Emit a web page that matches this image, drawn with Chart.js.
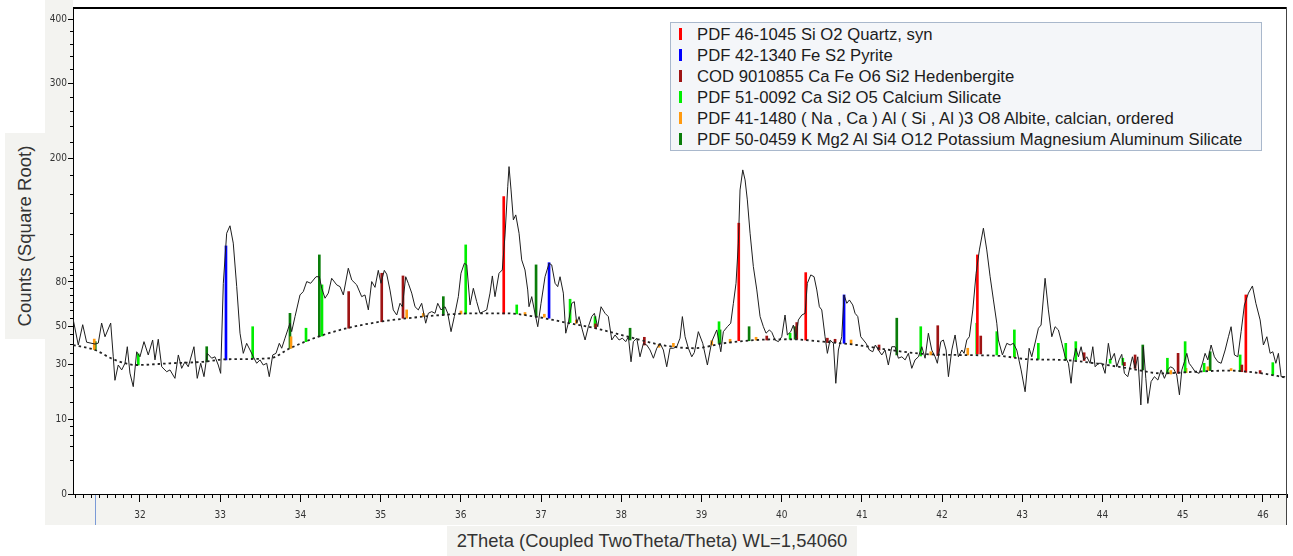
<!DOCTYPE html>
<html>
<head>
<meta charset="utf-8">
<script src="https://cdn.jsdelivr.net/npm/chart.js@4.4.1/dist/chart.umd.min.js"></script>
<style>
  body { margin: 0; background: #fff; }
  #wrap { position: relative; width: 1293px; height: 556px; overflow: hidden; font-family: 'Liberation Sans', Arial, sans-serif; }
  .panel { position: absolute; background: #f3f3f0; }
  #chart { position: absolute; left: 0; top: 0; z-index: 1; }
  #ytitle { left: 5px; top: 133px; width: 40px; height: 206px; display: flex; align-items: center; justify-content: center; }
  #ytitle span { transform: rotate(-90deg); white-space: nowrap; font-size: 18.6px; color: #333; }
  #xtitle { left: 447px; top: 526px; width: 410px; height: 30px; text-align: center; font-size: 18.4px; line-height: 30px; color: #333; white-space: nowrap; }
  #cursor { position: absolute; left: 95px; top: 495px; width: 1px; height: 30px; background: #7a9ad6; z-index: 2; }
  #legend { position: absolute; left: 670px; top: 22px; width: 590px; height: 126px; background: #f4f6f9; border: 1px solid #a9b8cc; z-index: 2; padding-top: 1px; }
  #legend .row { height: 21px; line-height: 21px; font-size: 16.7px; color: #1c1c1c; white-space: nowrap; position: relative; padding-left: 26px; }
  #legend .mk { position: absolute; left: 8px; top: 4px; width: 3px; height: 12px; }
</style>
</head>
<body>
<div id="wrap">
  <div class="panel" style="left:45px;top:0;width:28px;height:525px"></div>
  <div class="panel" style="left:45px;top:494px;width:1242px;height:31px"></div>
  <div class="panel" id="ytitle"><span>Counts (Square Root)</span></div>
  <div class="panel" id="xtitle">2Theta (Coupled TwoTheta/Theta) WL=1,54060</div>
  <canvas id="chart" width="1293" height="556"></canvas>
  <div id="cursor"></div>
  <div id="legend"></div>
</div>
<script>
// measured pattern (2theta, counts)
const twoTheta = [31.168,31.231,31.286,31.335,31.439,31.48,31.522,31.564,31.635,31.667,31.688,31.729,31.772,31.813,31.842,31.875,31.916,31.959,
  32.0,32.05,32.103,32.158,32.187,32.228,32.271,32.333,32.374,32.436,32.478,32.52,32.561,32.602,32.673,32.714,32.757,32.798,32.839,32.894,32.935,32.976,
  33.006,33.039,33.081,33.122,33.163,33.206,33.247,33.288,33.33,33.372,33.413,33.455,33.496,33.537,33.58,33.612,33.655,33.696,33.737,33.767,33.808,33.87,33.891,33.933,33.995,
  34.036,34.079,34.128,34.195,34.236,34.266,34.307,34.348,34.39,34.453,34.494,34.535,34.597,34.64,34.702,34.764,34.805,34.847,34.889,34.93,34.971,
  35.005,35.046,35.076,35.117,35.158,35.201,35.242,35.271,35.313,35.345,35.388,35.429,35.47,35.512,35.562,35.595,35.637,35.678,35.712,35.753,35.803,35.837,35.878,35.919,35.969,
  36.002,36.044,36.074,36.115,36.156,36.198,36.239,36.281,36.323,36.364,36.393,36.426,36.476,36.517,36.551,36.585,36.601,36.626,36.655,36.685,36.726,36.759,36.8,36.834,36.85,36.884,36.916,36.959,
  37.0,37.05,37.1,37.133,37.175,37.208,37.237,37.278,37.308,37.34,37.383,37.415,37.445,37.474,37.515,37.549,37.59,37.632,37.665,37.707,37.748,37.798,37.839,37.882,37.923,37.973,
  38.014,38.056,38.089,38.122,38.151,38.193,38.234,38.276,38.318,38.359,38.401,38.443,38.484,38.525,38.567,38.608,38.65,38.692,38.733,38.762,38.796,38.837,38.879,38.911,38.961,
  39.016,39.074,39.128,39.191,39.241,39.273,39.323,39.365,39.398,39.431,39.46,39.481,39.515,39.544,39.572,39.606,39.647,39.69,39.731,39.772,39.805,39.847,39.877,39.918,39.959,
  40.001,40.042,40.071,40.113,40.146,40.18,40.208,40.251,40.292,40.32,40.363,40.404,40.438,40.47,40.5,40.541,40.57,40.603,40.645,40.675,40.707,40.749,40.778,40.812,40.844,40.886,40.915,40.949,40.986,
  41.019,41.052,41.094,41.136,41.168,41.206,41.248,41.289,41.33,41.373,41.414,41.455,41.498,41.539,41.58,41.622,41.663,41.705,41.747,41.788,41.829,41.871,41.913,41.941,41.984,
  42.016,42.05,42.079,42.121,42.162,42.203,42.246,42.274,42.308,42.34,42.383,42.424,42.465,42.515,42.557,42.599,42.64,42.682,42.702,42.752,42.807,42.848,42.889,42.931,42.985,
  43.035,43.085,43.118,43.168,43.201,43.234,43.284,43.325,43.368,43.409,43.45,43.493,43.534,43.575,43.608,43.637,43.667,43.7,43.733,43.767,43.804,43.845,43.879,43.908,43.949,43.991,
  44.032,44.073,44.107,44.148,44.178,44.207,44.24,44.273,44.315,44.344,44.373,44.406,44.44,44.478,44.51,44.54,44.565,44.606,44.647,44.69,44.731,44.772,44.814,44.847,44.884,44.926,44.959,44.989,
  45.021,45.051,45.08,45.113,45.155,45.204,45.246,45.279,45.313,45.354,45.395,45.438,45.479,45.529,45.57,45.603,45.645,45.687,45.728,45.769,45.819,45.869,45.912,45.965,
  46.006,46.049,46.09,46.123,46.161,46.193,46.227,46.277];
const counts = [54,39.5,51,41,40,40.5,52,44,52,33.5,23,29.6,27.4,30.4,38.6,26,20.5,36,
  33.5,41.3,34.4,42.2,32,42.6,28.8,26.6,27.4,23.8,34.4,28.1,31.1,28.8,38.6,23.8,30.4,24.5,35.2,32.8,33.5,29.6,
  25.9,79,121,128,112,76.5,46,35.2,40.4,36.9,33.5,30.4,32,29.6,30.4,24.5,34.4,35.2,40.4,37.8,43.2,51.9,46.9,56,70.5,
  72.9,80.3,79,84,84,75.3,68.2,71.8,82.8,77.8,76.5,70.5,90.7,81.5,77.8,69.3,70.5,60.3,80.3,76,89,
  79,89,86,74,60.3,57,64.7,62.4,84,79,71.8,62.4,60.3,64.7,51.9,58.1,59.2,58.1,64.7,60.3,62.4,58.1,46.9,56,69.3,
  86.7,94.7,93.4,63.6,75.3,65.8,58.1,59.2,60.3,71.8,84.6,69.3,86.7,89.3,119.4,168,190.7,164.5,133.7,138.6,121,97.5,89.3,74.1,62.4,69.3,60.3,49.8,
  64.7,84,94.7,93.4,79,76.5,84,71.8,46,51.9,64.7,65.8,51.9,56,47.9,42.2,49.8,56,58.1,49.8,62.4,58.1,56,42.2,45,42.2,
  43.2,41.3,44,31.1,41.3,43.2,33.5,40.4,39.5,36.9,32.8,37.8,40.4,36.9,28.8,37.8,37.8,38.6,43.2,56,44,37.8,33.5,35.6,46.9,
  40.4,29.6,41.3,47.9,36,46.9,49.8,51.9,64.7,79,112,164.5,186.9,175.5,153.9,121,92,74.1,56,49.8,46,47.9,46.5,42.2,41.3,
  44,57,45,46.9,50.8,43.2,53.9,57,58.1,79,85.4,84,74.1,62.4,60.3,44,35.2,42.2,40.4,21.8,36.9,44,70.5,64.7,67,63.6,58.1,56,44,
  42.2,40.4,36.9,36,39.5,36.9,34.4,36.9,29.6,38.6,38.6,32.8,33.5,32,35.2,28.1,32,33.5,38.6,32.8,46,36.9,33.5,30.4,41.3,
  42.2,36.9,24.5,36.9,45,33.5,36.9,35.2,42.2,44,60.3,86.7,106,125.7,106,84,67,51.9,42.2,34.4,40.4,39.5,40.4,36.9,27.4,
  18.6,37.8,33.5,42.2,48.9,50.8,82.8,60.3,44,49.8,47.9,40.4,33.5,30.4,21.8,32,37.8,33.5,38.6,32,33.5,30.4,38.6,28.8,30.4,30.4,
  25.9,40.4,32,35.2,28.8,32,34.7,25.9,24.5,28.8,33.5,28.1,33.5,14.1,38.6,23.8,14.6,22.5,24.5,23.1,27.4,23.8,27.4,28.8,28.1,25.2,17.5,27.4,
  31.1,35.2,30.4,28.8,26.6,25.9,30.4,35.2,32,39.5,33.5,31.1,30.4,36.9,44,49.8,34.4,33.5,46.9,63.6,71.8,77,64.7,53.9,
  39.5,44,35.2,36,30.4,35.2,24.5,24.5];

// fitted background (dotted)
const bgTheta = [31.168,31.439,31.667,31.959,32.374,32.789,33.081,33.621,33.87,34.244,34.577,34.993,35.345,35.762,36.177,36.551,36.925,37.258,37.673,38.089,
  38.505,38.911,39.273,39.69,40.105,40.52,40.936,41.352,41.767,42.183,42.723,43.076,43.493,43.908,44.323,44.739,45.155,45.57,45.986,46.277];
const bgCounts = [39.5,36.9,32.3,29.6,30.4,31.1,32.3,32.8,37.8,44.4,48.9,52.8,55,57,58.1,58.1,56,52.8,48.9,44,
  39.5,37.8,40.4,42.2,42.6,41.3,39.5,36.9,34.9,34.4,33.9,32.3,32,30.4,28.1,25.9,26.6,27.1,25.9,24.2];

// reference phases
const phaseNames = [
  "PDF 46-1045 Si O2 Quartz, syn",
  "PDF 42-1340 Fe S2 Pyrite",
  "COD 9010855 Ca Fe O6 Si2 Hedenbergite",
  "PDF 51-0092 Ca Si2 O5 Calcium Silicate",
  "PDF 41-1480 ( Na , Ca ) Al ( Si , Al )3 O8 Albite, calcian, ordered",
  "PDF 50-0459 K Mg2 Al Si4 O12 Potassium Magnesium Aluminum Silicate"
];
const phaseColors = ["#ff0000", "#0000ff", "#9e1414", "#00ee00", "#ff9a10", "#0a7d0a"];

// stick positions, stick bottom and top (counts)
const quartzPos = [36.535,39.465,40.3,42.44,45.787];
const quartzLo = [57.7,41.8,42.2,34.9,26.4];
const quartzHi = [157.4,130.5,87.2,101.7,70.5];

const pyritePos = [33.072,37.1,40.778];
const pyriteLo = [32,55,40.4];
const pyriteHi = [109.5,95.2,70.5];

const hedenPos = [34.602,35.014,35.279,37.68,38.288,39.814,40.188,40.57,40.666,41.214,41.946,42.482,43.771,44.273,44.406,44.942,45.737,45.965];
const hedenLo = [48.9,52.8,55,48.9,39.5,42.2,42.6,40.8,40.8,36.9,34.1,34.9,31.7,29.3,28.1,25.9,26.6,25.9];
const hedenHi = [72.9,86.7,84.6,51.5,43.7,44.4,52.3,43.2,42.6,39.5,50.4,44.4,35.5,30.8,34.4,35.2,29.6,27.1];

const casiPos = [31.979,33.405,34.07,34.269,36.061,36.697,37.362,37.673,39.219,40.105,41.734,42.432,42.682,42.901,43.2,43.542,43.667,44.095,44.253,44.809,45.03,45.267,45.716,46.123];
const casiLo = [29.6,32.8,41.3,44.4,57.7,57.7,52.3,49.8,40.4,42.6,33.9,34.9,34.4,33.5,32.3,32,32,30.4,29.6,25.9,26.2,26.6,26.6,25.2];
const casiHi = [34.9,49.8,48.9,77.8,110.4,63.6,67.5,56,52.8,46,49.8,51.9,46.9,47.9,40.4,40.4,41.3,32.3,32.8,32.8,41.3,30.4,34.4,30.7];

const albitePos = [31.43,33.883,35.325,35.532,36.002,36.8,37.041,37.44,38.471,38.65,39.128,39.357,39.681,40.865,41.859,42.32,42.901,44.851,45.042,45.313,45.603];
const albiteLo = [37.1,37.8,55,56,57.7,57,55.6,51.9,38.3,38.6,39.5,40.8,42.2,40,34.4,34.4,33.3,25.6,26.2,27.1,27.1];
const albiteHi = [42.7,44,60.3,58,59.6,58.6,57.5,53.9,39.8,40.4,41.8,42.6,43.7,42.2,36,37.8,36,27.1,28.1,28.8,28];

const kmgPos = [31.443,32.832,33.87,34.236,35.782,36.938,38.11,39.232,39.594,40.167,41.435,44.502,45.342];
const kmgLo = [36.9,31.1,37.8,44,57,56,42.2,40.4,41.8,42.6,34.4,27.4,27.1];
const kmgHi = [41.3,38.6,58.1,101.7,69.3,93.4,48.9,47.9,49.8,49.8,55,39.5,36];

// axis ticks
const yLabelTicks = [0, 10, 30, 50, 80, 200, 300, 400];
const yMinorTicks = [2,4,6,8,15,20,25,35,40,45,55,60,65,70,75,85,90,95,100,120,140,160,180,220,240,260,280,320,340,360,380];
const xLabelTicks = [32,33,34,35,36,37,38,39,40,41,42,43,44,45,46];
const xMin = 31.165, xMax = 46.3, yMax = 422;

// square-root intensity axis
class SqrtScale extends Chart.LinearScale {
  static id = 'sqrt';
  static defaults = Chart.LinearScale.defaults;
  getPixelForValue(v) {
    if (v === null || isNaN(v)) return NaN;
    const a = Math.sqrt(this.min), b = Math.sqrt(this.max);
    return this.getPixelForDecimal((Math.sqrt(Math.max(v, 0)) - a) / (b - a));
  }
  getValueForPixel(p) {
    const a = Math.sqrt(this.min), b = Math.sqrt(this.max);
    const s = a + this.getDecimalForPixel(p) * (b - a);
    return s * s;
  }
}
Chart.register(SqrtScale);

const frame = {
  id: 'frame',
  afterDraw(chart) {
    const { ctx, chartArea: a } = chart;
    ctx.save();
    ctx.strokeStyle = '#000';
    ctx.lineWidth = 2;
    ctx.beginPath();
    ctx.moveTo(a.left, a.top + 1);
    ctx.lineTo(a.right, a.top + 1);
    ctx.stroke();
    ctx.strokeStyle = '#444';
    ctx.lineWidth = 1;
    ctx.beginPath();
    ctx.moveTo(a.right - 0.5, a.top);
    ctx.lineTo(a.right - 0.5, a.bottom + 31);
    ctx.stroke();
    ctx.restore();
  }
};

const sticks = (pos, lo, hi) => pos.map((p, i) => ({ x: p, y: [lo[i], hi[i]] }));
const phaseData = [
  sticks(quartzPos, quartzLo, quartzHi),
  sticks(pyritePos, pyriteLo, pyriteHi),
  sticks(hedenPos, hedenLo, hedenHi),
  sticks(casiPos, casiLo, casiHi),
  sticks(albitePos, albiteLo, albiteHi),
  sticks(kmgPos, kmgLo, kmgHi)
];

const tickFont = { family: "'Liberation Sans Narrow', 'DejaVu Sans Condensed', sans-serif", size: 10 };
const minorX = [];
for (let k = 312; k <= 463; k++) if (k % 10 !== 0) minorX.push(k / 10);

const datasets = [
  {
    type: 'line',
    label: 'pattern',
    data: twoTheta.map((t, i) => ({ x: t, y: counts[i] })),
    borderColor: '#1e1e1e',
    borderWidth: 1,
    pointRadius: 0,
    tension: 0,
    order: 0
  },
  {
    type: 'line',
    label: 'background',
    data: bgTheta.map((t, i) => ({ x: t, y: bgCounts[i] })),
    borderColor: '#222',
    borderWidth: 1.8,
    borderDash: [2.5, 3],
    pointRadius: 0,
    cubicInterpolationMode: 'monotone',
    order: 1
  }
];
phaseNames.forEach((name, i) => {
  datasets.push({
    type: 'bar',
    label: name,
    data: phaseData[i],
    backgroundColor: phaseColors[i],
    borderWidth: 0,
    barThickness: 2,
    grouped: false,
    order: 2
  });
});

new Chart(document.getElementById('chart'), {
  type: 'line',
  data: { datasets: datasets },
  options: {
    responsive: false,
    animation: false,
    events: [],
    layout: { padding: { top: 7, right: 6, left: 0, bottom: 0 } },
    plugins: { legend: { display: false }, tooltip: { enabled: false } },
    scales: {
      x: {
        type: 'linear', position: 'bottom', weight: 1,
        min: xMin, max: xMax, offset: false,
        afterBuildTicks: s => { s.ticks = xLabelTicks.map(v => ({ value: v })); },
        afterFit: s => { s.height = 62; },
        ticks: { autoSkip: false, maxRotation: 0, padding: 7, color: '#333', font: tickFont, callback: v => String(v) },
        grid: { drawOnChartArea: false, offset: false, tickLength: 8, tickColor: '#000' },
        border: { color: '#000', width: 1 }
      },
      xm: {
        type: 'linear', position: 'bottom', weight: 0,
        min: xMin, max: xMax, offset: false,
        afterBuildTicks: s => { s.ticks = minorX.map(v => ({ value: v })); },
        afterFit: s => { s.height = 0; },
        ticks: { display: false, autoSkip: false },
        grid: { drawOnChartArea: false, offset: false, tickLength: 4, tickColor: '#000' },
        border: { display: false }
      },
      y: {
        type: 'sqrt', position: 'left', weight: 1,
        min: 0, max: yMax,
        afterBuildTicks: s => { s.ticks = yLabelTicks.map(v => ({ value: v })); },
        afterFit: s => { s.width = 73; },
        ticks: { autoSkip: false, padding: 1, color: '#333', font: tickFont, callback: v => String(v) },
        grid: { drawOnChartArea: false, tickLength: 5, tickColor: '#000' },
        border: { color: '#000', width: 1 }
      },
      ym: {
        type: 'sqrt', position: 'left', weight: 0,
        min: 0, max: yMax,
        afterBuildTicks: s => { s.ticks = yMinorTicks.map(v => ({ value: v })); },
        afterFit: s => { s.width = 0; },
        ticks: { display: false, autoSkip: false },
        grid: { drawOnChartArea: false, tickLength: 3, tickColor: '#000' },
        border: { display: false }
      }
    }
  },
  plugins: [frame]
});

// legend box
const legend = document.getElementById('legend');
phaseNames.forEach((name, i) => {
  const row = document.createElement('div');
  row.className = 'row';
  const mk = document.createElement('span');
  mk.className = 'mk';
  mk.style.background = phaseColors[i];
  row.appendChild(mk);
  row.appendChild(document.createTextNode(name));
  legend.appendChild(row);
});
</script>
</body>
</html>
